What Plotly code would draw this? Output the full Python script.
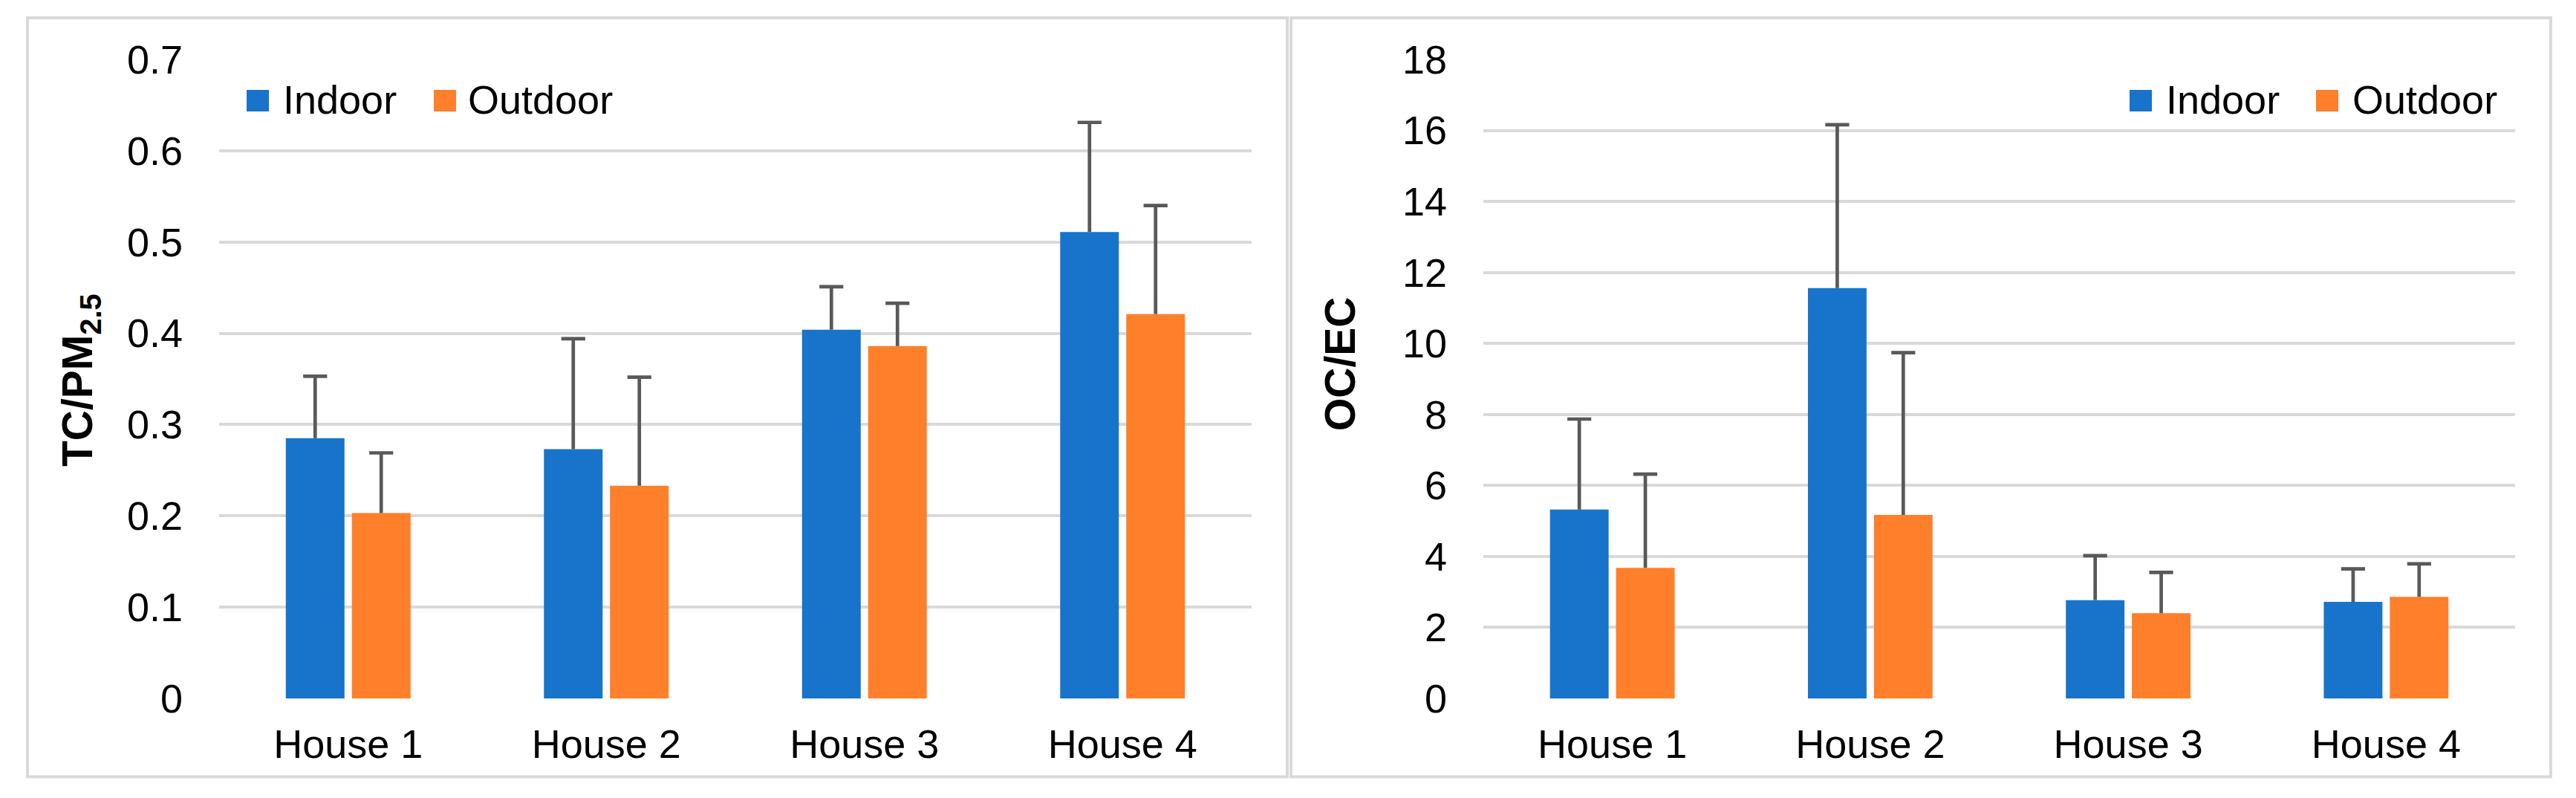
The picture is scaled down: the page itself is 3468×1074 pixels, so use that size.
import plotly.graph_objects as go

W, H = 3468, 1074

houses = ["House 1", "House 2", "House 3", "House 4"]

tc_indoor = [0.285, 0.273, 0.404, 0.511]
tc_indoor_err = [0.068, 0.121, 0.047, 0.120]
tc_outdoor = [0.203, 0.233, 0.386, 0.421]
tc_outdoor_err = [0.066, 0.119, 0.047, 0.119]

oc_indoor = [5.32, 11.56, 2.77, 2.72]
oc_indoor_err = [2.55, 4.60, 1.25, 0.93]
oc_outdoor = [3.68, 5.17, 2.40, 2.86]
oc_outdoor_err = [2.64, 4.57, 1.15, 0.93]

series_names = ["Indoor", "Outdoor"]
BLUE = "#1874CA"
ORANGE = "#FF7F2A"
ERR = "#595959"
GRID = "#D9D9D9"
FONT = "Liberation Sans, Arial, sans-serif"
FS = 54

fig = go.Figure()


def add_panel(xa, ya, vals_in, err_in, vals_out, err_out):
    for name, vals, errs, col in [("Indoor", vals_in, err_in, BLUE),
                                  ("Outdoor", vals_out, err_out, ORANGE)]:
        fig.add_trace(go.Bar(
            x=houses, y=vals, name=name, marker=dict(color=col, line=dict(width=0)),
            offsetgroup=name, showlegend=False, xaxis=xa, yaxis=ya,
            error_y=dict(type="data", symmetric=False, array=errs,
                         arrayminus=[0] * len(errs), color=ERR,
                         thickness=4.7, width=0),
        ))
    for name, vals, errs in [("Indoor", vals_in, err_in),
                             ("Outdoor", vals_out, err_out)]:
        fig.add_trace(go.Scatter(
            x=houses, y=[v + e for v, e in zip(vals, errs)], mode="markers",
            offsetgroup=name, showlegend=False, xaxis=xa, yaxis=ya,
            marker=dict(symbol="line-ew", size=23,
                        line=dict(color=ERR, width=4.7)),
            hoverinfo="skip",
        ))


add_panel("x", "y", tc_indoor, tc_indoor_err, tc_outdoor, tc_outdoor_err)
add_panel("x2", "y2", oc_indoor, oc_indoor_err, oc_outdoor, oc_outdoor_err)

ydom = [1 - 940 / H, 1 - 80 / H]
xcommon = dict(showgrid=False, zeroline=False, showline=False, ticks="",
               tickfont=dict(family=FONT, size=FS, color="black"),
               ticklabelstandoff=25, fixedrange=True, automargin=False)
ycommon = dict(showgrid=True, gridcolor=GRID, gridwidth=4.3, zeroline=False,
               showline=False, ticks="",
               tickfont=dict(family=FONT, size=FS, color="black"),
               ticklabelstandoff=48, fixedrange=True, automargin=False)

fig.update_layout(
    width=W, height=H,
    margin=dict(l=0, r=0, t=0, b=0, pad=0, autoexpand=False),
    paper_bgcolor="white", plot_bgcolor="white",
    barmode="group", bargap=0.488, bargroupgap=0.112,
    scattermode="group", scattergap=0.488,
    showlegend=False,
    xaxis=dict(domain=[295 / W, 1685 / W], anchor="y", **xcommon),
    yaxis=dict(domain=ydom, anchor="x", range=[0, 0.7], dtick=0.1,
               tickformat="~g", **ycommon),
    xaxis2=dict(domain=[1997 / W, 3386 / W], anchor="y2", **xcommon),
    yaxis2=dict(domain=ydom, anchor="x2", range=[0, 18], dtick=2, **ycommon),
)

shapes = []
# panel borders
for x0, x1 in [(37, 1733), (1738, 3434)]:
    shapes.append(dict(type="rect", xref="paper", yref="paper",
                       x0=x0 / W, x1=x1 / W, y0=1 - 1045.5 / H, y1=1 - 24 / H,
                       line=dict(color=GRID, width=4), fillcolor="rgba(0,0,0,0)",
                       layer="below"))

annotations = []
# manual legends (larger key squares, as in the reference)
legend_items = [
    (332, 379, BLUE, series_names[0]), (584, 628, ORANGE, series_names[1]),
    (2867, 2914, BLUE, series_names[0]), (3118, 3165, ORANGE, series_names[1]),
]
for sx, tx, col, label in legend_items:
    shapes.append(dict(type="rect", xref="paper", yref="paper",
                       x0=sx / W, x1=(sx + 30) / W, y0=1 - 150 / H, y1=1 - 121 / H,
                       line=dict(width=0), fillcolor=col))
    annotations.append(dict(text=label, xref="paper", yref="paper",
                            x=tx / W, y=1 - 134 / H, xanchor="left", yanchor="middle",
                            showarrow=False,
                            font=dict(family=FONT, size=FS, color="black")))

# axis titles
annotations.append(dict(text="<b>TC/PM<sub>2.5</sub></b>", xref="paper", yref="paper",
                        x=108 / W, y=1 - 512 / H, xanchor="center", yanchor="middle",
                        textangle=-90, showarrow=False,
                        font=dict(family=FONT, size=57, color="black")))
annotations.append(dict(text="<b>OC/EC</b>", xref="paper", yref="paper",
                        x=1804 / W, y=1 - 490 / H, xanchor="center", yanchor="middle",
                        textangle=-90, showarrow=False,
                        font=dict(family=FONT, size=57, color="black")))

fig.update_layout(shapes=shapes, annotations=annotations)

fig.write_html("out.html", config={"displayModeBar": False},
               post_script="document.body.style.margin='0';"
                           "document.body.style.overflow='hidden';")
